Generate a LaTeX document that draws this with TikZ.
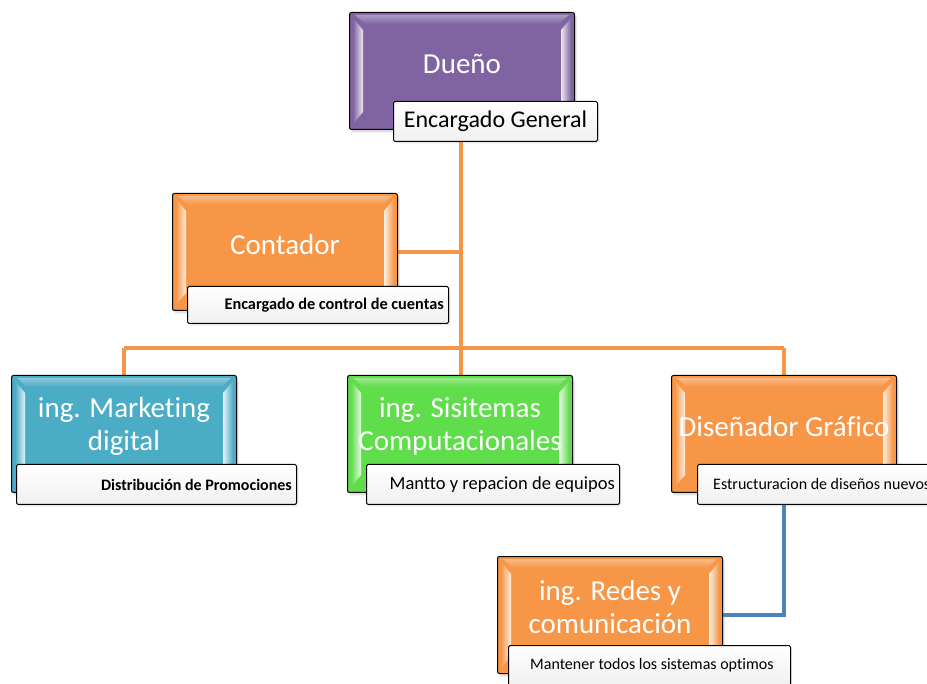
\documentclass[tikz,border=0pt]{standalone}
\usepackage{fontspec}
\setmainfont{Carlito}[Ligatures=NoCommon]
\usetikzlibrary{calc,shadows}
\pgfdeclarelayer{bg}
\pgfsetlayers{bg,main}
\definecolor{cpurple}{HTML}{8064A2}
\definecolor{corange}{HTML}{F79646}
\definecolor{cblue}{HTML}{4BACC6}
\definecolor{cgreen}{HTML}{5FDD4B}
\definecolor{clineor}{HTML}{F79646}
\definecolor{clinebl}{HTML}{4F81BD}
\tikzset{
  mainbox/.style={draw=black, line width=1pt, rounded corners=2pt,
    minimum width=225pt, minimum height=117pt, inner sep=0pt, anchor=north west,
    drop shadow={shadow xshift=2pt, shadow yshift=-3pt, opacity=0.25}},
  maintext/.style={text=white, font=\fontsize{29}{33}\selectfont, align=center, inner sep=0pt},
  labelbox/.style={draw=black, line width=1pt, rounded corners=1.5pt, top color=white,
    bottom color=gray!12, minimum height=40pt, inner sep=0pt, anchor=north west,
    drop shadow={shadow xshift=1.5pt, shadow yshift=-2pt, opacity=0.2}},
  lbltext/.style={text=black, inner sep=0pt},
  conn/.style={line width=4.5pt, draw=clineor},
  connb/.style={line width=4.5pt, draw=clinebl},
}
\newcommand\bevelbox[2]{%
  \shade[left color=#2, right color=white!85!#2]
    ($(#1.north west)+(4,6)$) -- ($(#1.north west)+(14,18)$) --
    ($(#1.south west)+(14,-18)$) -- ($(#1.south west)+(4,-6)$) -- cycle;
  \shade[left color=white!85!#2, right color=#2]
    ($(#1.north east)+(-4,6)$) -- ($(#1.north east)+(-14,18)$) --
    ($(#1.south east)+(-14,-18)$) -- ($(#1.south east)+(-4,-6)$) -- cycle;
  \shade[top color=white!35!#2, bottom color=#2]
    ($(#1.north west)+(6,3)$) -- ($(#1.north east)+(-6,3)$) --
    ($(#1.north east)+(-16,12)$) -- ($(#1.north west)+(16,12)$) -- cycle;
}
\begin{document}
\begin{tikzpicture}[x=1pt,y=-1pt]
\useasboundingbox (0,0) rectangle (927,684);

% Main boxes
\node[mainbox, fill=cpurple] (duen) at (349,12) {};
\bevelbox{duen}{cpurple}
\node[maintext] (duent) at ($(duen.north)+(0,52)$) {Dueño};
\node[labelbox, minimum width=204pt] (duenl) at (393,101) {};
\node[lbltext, font=\fontsize{24}{28}\selectfont] (duenlt) at (duenl.center) {Encargado General};

\node[mainbox, fill=corange] (cont) at (172,193) {};
\bevelbox{cont}{corange}
\node[maintext] (contt) at ($(cont.north)+(0,52)$) {Contador};
\node[labelbox, minimum width=261pt, minimum height=37pt] (contl) at (187,286) {};
\node[lbltext, font=\fontsize{16.3}{20}\selectfont\bfseries, anchor=east] (contlt) at ($(contl.east)+(-5,0)$) {Encargado de control de cuentas};

\node[mainbox, fill=cblue] (mkt) at (11,375) {};
\bevelbox{mkt}{cblue}
\node[maintext] (mktt) at ($(mkt.north)+(0,51)$) {ing. Marketing\\digital};
\node[labelbox, minimum width=280pt] (mktl) at (16,464) {};
\node[lbltext, font=\fontsize{16}{20}\selectfont\bfseries, anchor=east] (mktlt) at ($(mktl.east)+(-5,0)$) {Distribución de Promociones};

\node[mainbox, fill=cgreen] (sis) at (347,375) {};
\bevelbox{sis}{cgreen}
\node[maintext] (sist) at ($(sis.north)+(0,51)$) {ing. Sisitemas\\Computacionales};
\node[labelbox, minimum width=253pt] (sisl) at (366,464) {};
\node[lbltext, font=\fontsize{18.5}{22}\selectfont, anchor=east] (sislt) at ($(sisl.east)+(-5,0)$) {Mantto y repacion de equipos};

\node[mainbox, fill=corange] (dis) at (671,375) {};
\bevelbox{dis}{corange}
\node[maintext] (dist) at ($(dis.north)+(0,52)$) {Diseñador Gráfico};
\node[labelbox, minimum width=250pt] (disl) at (697,464) {};
\node[lbltext, font=\fontsize{16}{20}\selectfont, anchor=west] (dislt) at ($(disl.west)+(16,0)$) {Estructuracion de diseños nuevos};

\node[mainbox, fill=corange] (red) at (497,556) {};
\bevelbox{red}{corange}
\node[maintext] (redt) at ($(red.north)+(0,51)$) {ing. Redes y\\comunicación};
\node[labelbox, minimum width=282pt] (redl) at (508,645) {};
\node[lbltext, font=\fontsize{16}{20}\selectfont, anchor=west] (redlt) at ($(redl.west)+(22,0)$) {Mantener todos los sistemas optimos};

% Connectors
\coordinate (hub) at (461,348);
\begin{pgfonlayer}{bg}
  \draw[conn] (duen.south -| hub) -- (hub);
  \draw[conn] (cont.east) -- (cont.east -| hub);
  \draw[conn] (mkt.north |- hub) -- (dis.north |- hub);
  \draw[conn] (mkt.north |- hub) -- (mkt.north);
  \draw[conn] (sis.north -| hub) -- (hub);
  \draw[conn] (dis.north |- hub) -- (dis.north);
  \draw[connb] (dis.south) -- (dis.south |- red.east) -- (red.east);
\end{pgfonlayer}
\end{tikzpicture}
\end{document}
